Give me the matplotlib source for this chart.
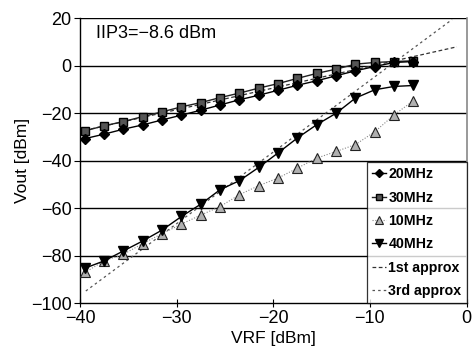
import numpy as np
import matplotlib
matplotlib.use('Agg')
import matplotlib.pyplot as plt

plt.rcParams['font.family'] = ['Liberation Sans', 'DejaVu Sans']

# Входи (dBm)
vrf = [-39.5, -37.5, -35.5, -33.5, -31.5, -29.5, -27.5, -25.5, -23.5,
       -21.5, -19.5, -17.5, -15.5, -13.5, -11.5, -9.5, -7.5, -5.5]

vout_20 = [-30.7, -28.8, -26.7, -24.9, -22.8, -20.8, -18.7, -16.5, -14.3,
           -12.4, -10.3, -8.2, -6.3, -4.2, -2.1, -0.3, 1.4, 1.8]
vout_30 = [-27.4, -25.3, -23.5, -21.4, -19.4, -17.3, -15.5, -13.4, -11.5,
           -9.4, -7.5, -5.3, -3.2, -1.4, 0.7, 1.4, 1.8, 2.1]
vout_10 = [-87.1, -82.2, -79.4, -74.9, -70.7, -66.7, -62.9, -59.3, -54.3,
           -50.5, -47.3, -43.1, -38.9, -36.1, -33.2, -27.8, -20.7, -14.7]
vout_40 = [-85.3, -82.2, -78.0, -73.8, -69.2, -63.5, -58.3, -52.2, -48.4,
           -42.8, -36.7, -30.4, -24.8, -20.0, -13.6, -10.1, -8.7, -8.3]

# Апроксимації (кінцеві точки)
approx1_x = [-39.5, -1.0]
approx1_y = [-27.2, 8.0]
approx3_x = [-39.4, -1.5]
approx3_y = [-94.9, 19.5]

fig = plt.figure(figsize=(4.72, 3.46), dpi=100)
ax = fig.add_axes([0.1695, 0.124, 0.819, 0.823])

for yv in [-80, -60, -40, -20, 0, 20]:
    ax.axhline(yv, color='black', linewidth=1.0, zorder=1)

ax.plot(vrf, vout_20, color='black', linewidth=1.0, marker='D', markersize=5,
        markerfacecolor='black', markeredgecolor='black', label='20MHz', zorder=4)
ax.plot(vrf, vout_30, color='#222222', linewidth=1.0, marker='s', markersize=5.5,
        markerfacecolor='#555555', markeredgecolor='black', label='30MHz', zorder=3)
ax.plot(vrf, vout_10, color='#888888', linewidth=0.8, linestyle=(0, (1, 1.5)), marker='^',
        markersize=7, markerfacecolor='#b0b0b0', markeredgecolor='#222222',
        markeredgewidth=0.8, label='10MHz', zorder=3)
ax.plot(vrf, vout_40, color='black', linewidth=1.0, marker='v', markersize=7,
        markerfacecolor='black', markeredgecolor='black', label='40MHz', zorder=4)
ax.plot(approx1_x, approx1_y, color='#333333', linewidth=0.9, linestyle=(0, (3, 2)),
        label='1st approx', zorder=2)
ax.plot(approx3_x, approx3_y, color='#555555', linewidth=0.9, linestyle=(0, (2, 2.5)),
        label='3rd approx', zorder=2)

ax.text(-38.3, 13.5, 'IIP3=\u22128.6 dBm', fontsize=13, ha='left', va='center')

ax.set_xlim(-40, 0)
ax.set_ylim(-100, 20)
ax.set_xticks([-40, -30, -20, -10, 0])
ax.set_yticks([-100, -80, -60, -40, -20, 0, 20])
ax.set_xticklabels(['\u221240', '\u221230', '\u221220', '\u221210', '0'])
ax.set_yticklabels(['\u2212100', '\u221280', '\u221260', '\u221240', '\u221220', '0', '20'])
ax.tick_params(axis='x', direction='inout', length=6, labelsize=13, pad=2)
ax.tick_params(axis='y', direction='out', length=4, labelsize=13, pad=2)
ax.set_xlabel('VRF [dBm]', fontsize=12.5, labelpad=3)
ax.set_ylabel('Vout [dBm]', fontsize=12.5, labelpad=1)

for s in ['left', 'bottom']:
    ax.spines[s].set_color('black')
    ax.spines[s].set_linewidth(1.0)
ax.spines['right'].set_color('#888888')
ax.spines['right'].set_linewidth(1.2)
ax.spines['top'].set_visible(False)

leg = ax.legend(loc='lower right', prop={'weight': 'bold', 'size': 10.2},
                frameon=True, fancybox=False, borderpad=0.35, labelspacing=0.66,
                handlelength=0.95, handletextpad=0.2, borderaxespad=0.0,
                markerscale=0.8)
leg.get_frame().set_edgecolor('black')
leg.get_frame().set_linewidth(0.9)

fig.savefig('out.png', dpi=100)
